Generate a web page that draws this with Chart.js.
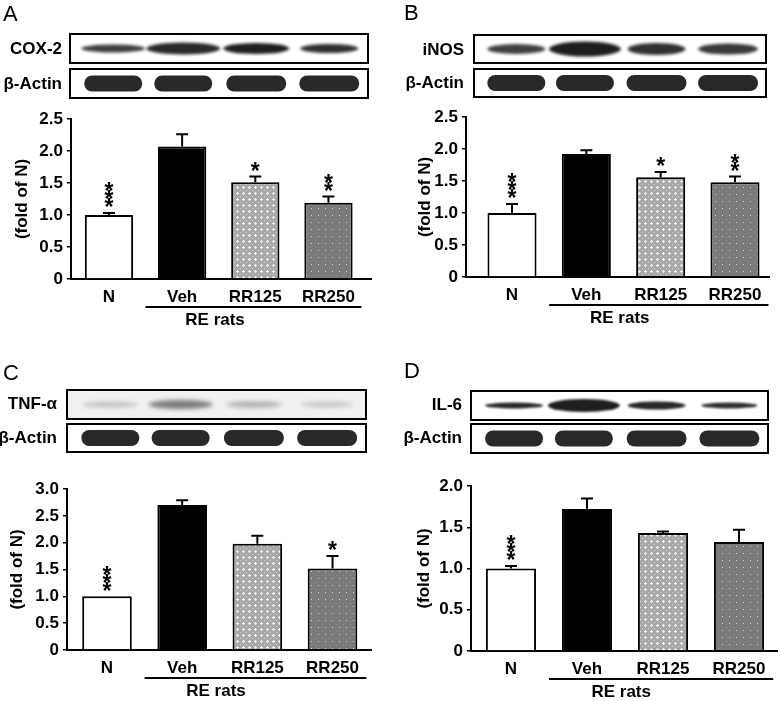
<!DOCTYPE html>
<html>
<head>
<meta charset="utf-8">
<script src="https://cdn.jsdelivr.net/npm/chart.js@4.4.0/dist/chart.umd.min.js"></script>
<style>
  body { margin: 0; background: #fff; }
  #page { position: relative; width: 778px; height: 701px; overflow: hidden; }
  canvas { position: absolute; }
</style>
</head>
<body>
<div id="page">
  <canvas id="blots" width="778" height="701" style="left:0;top:0"></canvas>
  <canvas id="chartA"></canvas>
  <canvas id="chartB"></canvas>
  <canvas id="chartC"></canvas>
  <canvas id="chartD"></canvas>
</div>
<script>
var groups = ['N', 'Veh', 'RR125', 'RR250'];

// A - COX-2
var coxValues = [1.0, 2.07, 1.51, 1.19];
var coxErrors = [0.03, 0.19, 0.09, 0.10];
var coxStars = [3, 0, 1, 2];
var coxTicks = [0, 0.5, 1.0, 1.5, 2.0, 2.5];

// B - iNOS
var inosValues = [1.0, 1.92, 1.56, 1.48];
var inosErrors = [0.14, 0.06, 0.08, 0.09];
var inosStars = [3, 0, 1, 2];
var inosTicks = [0, 0.5, 1.0, 1.5, 2.0, 2.5];

// C - TNF-alpha
var tnfValues = [1.0, 2.70, 1.98, 1.52];
var tnfErrors = [0, 0.09, 0.15, 0.23];
var tnfStars = [3, 0, 0, 1];
var tnfTicks = [0, 0.5, 1.0, 1.5, 2.0, 2.5, 3.0];

// D - IL-6
var il6Values = [1.0, 1.72, 1.43, 1.32];
var il6Errors = [0.03, 0.13, 0.02, 0.15];
var il6Stars = [3, 0, 0, 0];
var il6Ticks = [0, 0.5, 1.0, 1.5, 2.0];

// western blot band darkness per lane
var coxBands = [0.85, 0.95, 1.0, 0.92];
var inosBands = [0.85, 1.0, 0.92, 0.88];
var tnfBands = [0.22, 0.55, 0.28, 0.2];
var il6Bands = [0.95, 1.0, 0.95, 0.92];
var actinBands = [0.95, 0.95, 0.95, 0.95];

var FONT = '"Liberation Sans", Arial, Helvetica, sans-serif';
Chart.defaults.font.family = FONT;
Chart.defaults.color = '#000';

// ---- blots and panel letters (plain canvas) ----
var bg = document.getElementById('blots').getContext('2d');

function drawBlot(x, y, w, h, bands, heights, widths, fill, blur, pill) {
    bg.save();
    bg.fillStyle = fill;
    bg.fillRect(x, y, w, h);
    bg.beginPath();
    bg.rect(x, y, w, h);
    bg.clip();
    var lanes = [0.145, 0.38, 0.625, 0.87];
    for (var i = 0; i < lanes.length; i++) {
        var cx = x + w * lanes[i];
        var cy = y + h / 2;
        bg.save();
        bg.filter = 'blur(' + blur + 'px)';
        bg.fillStyle = 'rgba(30,30,30,' + bands[i] + ')';
        bg.beginPath();
        if (pill) {
            var r = heights[i] / 2;
            bg.moveTo(cx - widths[i] / 2 + r, cy - r);
            bg.lineTo(cx + widths[i] / 2 - r, cy - r);
            bg.arc(cx + widths[i] / 2 - r, cy, r, -Math.PI / 2, Math.PI / 2);
            bg.lineTo(cx - widths[i] / 2 + r, cy + r);
            bg.arc(cx - widths[i] / 2 + r, cy, r, Math.PI / 2, Math.PI * 1.5);
        } else {
            bg.ellipse(cx, cy, widths[i] / 2, heights[i] / 2, 0, 0, Math.PI * 2);
        }
        bg.fill();
        bg.restore();
    }
    bg.restore();
    bg.strokeStyle = '#000';
    bg.lineWidth = 2;
    bg.strokeRect(x, y, w, h);
}

function blotLabel(text, x, y) {
    bg.font = 'bold 17px ' + FONT;
    bg.fillStyle = '#000';
    bg.textAlign = 'right';
    bg.textBaseline = 'middle';
    bg.fillText(text, x, y);
}

function panelLetter(text, x, y) {
    bg.font = '22px ' + FONT;
    bg.fillStyle = '#000';
    bg.textAlign = 'left';
    bg.textBaseline = 'alphabetic';
    bg.fillText(text, x, y);
}

var actinW = [58, 58, 60, 60];
var actinH = [16, 16, 16, 16];

panelLetter('A', 3, 21);
drawBlot(70, 34, 298, 29, coxBands, [8, 12, 11, 9], [64, 74, 66, 58], '#fff', 1.6, false);
drawBlot(70, 69, 298, 29, actinBands, actinH, actinW, '#fff', 0.7, true);
blotLabel('COX-2', 62, 49);
blotLabel('\u03b2-Actin', 62, 84);

panelLetter('B', 404, 20);
drawBlot(474, 35, 292, 28, inosBands, [10, 15, 12, 11], [58, 72, 58, 60], '#fff', 1.6, false);
drawBlot(474, 69, 292, 28, actinBands, actinH, actinW, '#fff', 0.7, true);
blotLabel('iNOS', 464, 50);
blotLabel('\u03b2-Actin', 464, 83);

panelLetter('C', 3, 380);
drawBlot(67, 390, 299, 29, tnfBands, [6, 9, 7, 6], [56, 64, 56, 52], '#f1f1f1', 2, false);
drawBlot(67, 424, 299, 28, actinBands, actinH, actinW, '#fff', 0.7, true);
blotLabel('TNF-\u03b1', 57, 404);
blotLabel('\u03b2-Actin', 57, 438);

panelLetter('D', 404, 378);
drawBlot(471, 391, 297, 29, il6Bands, [6, 13, 8, 6], [58, 72, 58, 56], '#fff', 1.3, false);
drawBlot(471, 424, 297, 29, actinBands, actinH, actinW, '#fff', 0.7, true);
blotLabel('IL-6', 462, 405);
blotLabel('\u03b2-Actin', 462, 438);

// ---- bar fills ----
function tile(size, draw) {
    var c = document.createElement('canvas');
    c.width = size;
    c.height = size;
    draw(c.getContext('2d'));
    return bg.createPattern(c, 'repeat');
}

var fill125 = tile(6, function (t) {
    t.fillStyle = '#a9a9a9';
    t.fillRect(0, 0, 6, 6);
    t.fillStyle = '#cacaca';
    t.fillRect(0, 0, 1, 1);
    t.fillStyle = '#f2f2f2';
    t.fillRect(2, 3, 3, 1);
    t.fillRect(3, 2, 1, 3);
});

var fill250 = tile(7, function (t) {
    t.fillStyle = '#7a7a7a';
    t.fillRect(0, 0, 7, 7);
    t.fillStyle = '#d8d8d8';
    t.fillRect(3, 3, 1, 1);
    t.fillStyle = '#929292';
    t.fillRect(0, 0, 1, 1);
});

// error bars, stars and the "RE rats" bracket
function extras(values, errors, stars) {
    return {
        id: 'extras',
        afterDatasetsDraw: function (chart) {
            var ctx = chart.ctx;
            var xs = chart.scales.x;
            var ys = chart.scales.y;
            var bars = chart.getDatasetMeta(0).data;
            ctx.save();
            ctx.strokeStyle = '#000';
            ctx.fillStyle = '#000';
            ctx.lineWidth = 2;
            for (var i = 0; i < bars.length; i++) {
                var cx = bars[i].x;
                var yv = ys.getPixelForValue(values[i]);
                var ye = ys.getPixelForValue(values[i] + errors[i]);
                if (errors[i] > 0) {
                    ctx.beginPath();
                    ctx.moveTo(cx, yv);
                    ctx.lineTo(cx, ye);
                    ctx.moveTo(cx - 6, ye);
                    ctx.lineTo(cx + 6, ye);
                    ctx.stroke();
                }
                ctx.font = 'bold 23px ' + FONT;
                ctx.textAlign = 'center';
                ctx.textBaseline = 'alphabetic';
                for (var k = 0; k < stars[i]; k++) {
                    var cy = ye - 11 - k * 8;
                    ctx.fillText('*', cx, cy + 13.3);
                }
            }
            var yb = chart.chartArea.bottom;
            ctx.beginPath();
            ctx.moveTo(xs.getPixelForValue(0.5), yb + 28);
            ctx.lineTo(xs.getPixelForValue(3.45), yb + 28);
            ctx.stroke();
            ctx.font = 'bold 17px ' + FONT;
            ctx.textAlign = 'center';
            ctx.textBaseline = 'middle';
            ctx.fillText('RE rats', xs.getPixelForValue(1.45), yb + 41);
            ctx.restore();
        }
    };
}

var panels = [
    { id: 'chartA', left: 0, top: 100, w: 372, h: 229, padTop: 19, yWidth: 71, xMin: -0.519, xMax: 3.595, titlePad: 12,
      values: coxValues, errors: coxErrors, stars: coxStars, ticks: coxTicks },
    { id: 'chartB', left: 390, top: 100, w: 380, h: 227, padTop: 17, yWidth: 76, xMin: -0.619, xMax: 3.471, titlePad: 25,
      values: inosValues, errors: inosErrors, stars: inosStars, ticks: inosTicks },
    { id: 'chartC', left: 0, top: 470, w: 372, h: 230, padTop: 19, yWidth: 67, xMin: -0.532, xMax: 3.525, titlePad: 7,
      values: tnfValues, errors: tnfErrors, stars: tnfStars, ticks: tnfTicks },
    { id: 'chartD', left: 390, top: 466, w: 388, h: 235, padTop: 20, yWidth: 81, xMin: -0.526, xMax: 3.513, titlePad: 24,
      values: il6Values, errors: il6Errors, stars: il6Stars, ticks: il6Ticks }
];

panels.forEach(function (p) {
    var cv = document.getElementById(p.id);
    cv.width = p.w;
    cv.height = p.h;
    cv.style.left = p.left + 'px';
    cv.style.top = p.top + 'px';

    new Chart(cv, {
        type: 'bar',
        data: {
            datasets: [{
                data: p.values.map(function (v, i) { return { x: i, y: v }; }),
                backgroundColor: ['#ffffff', '#000000', fill125, fill250],
                borderColor: '#000',
                borderWidth: 2,
                barPercentage: 0.66,
                categoryPercentage: 1
            }]
        },
        options: {
            responsive: false,
            animation: false,
            devicePixelRatio: 1,
            layout: { padding: { top: p.padTop, left: 0, right: 0, bottom: 0 } },
            plugins: { legend: { display: false }, tooltip: { enabled: false } },
            scales: {
                x: {
                    type: 'linear',
                    offset: false,
                    min: p.xMin,
                    max: p.xMax,
                    afterBuildTicks: function (s) {
                        s.ticks = groups.map(function (g, i) { return { value: i }; });
                    },
                    afterFit: function (s) {
                        s.height = 50;
                        s.paddingLeft = 0;
                        s.paddingRight = 0;
                    },
                    ticks: {
                        autoSkip: false,
                        maxRotation: 0,
                        padding: 8,
                        font: { size: 17, weight: 'bold' },
                        callback: function (v) { return groups[v]; }
                    },
                    grid: { display: false, drawTicks: false },
                    border: { display: true, color: '#000', width: 2 }
                },
                y: {
                    min: 0,
                    max: p.ticks[p.ticks.length - 1],
                    afterBuildTicks: function (s) {
                        s.ticks = p.ticks.map(function (v) { return { value: v }; });
                    },
                    afterFit: function (s) {
                        s.width = p.yWidth;
                        s.paddingTop = 0;
                        s.paddingBottom = 0;
                    },
                    ticks: {
                        padding: 4,
                        font: { size: 17, weight: 'bold' },
                        callback: function (v) { return v === 0 ? '0' : v.toFixed(1); }
                    },
                    grid: { drawOnChartArea: false, drawTicks: true, tickLength: 4, color: '#000', lineWidth: 1.5 },
                    border: { display: true, color: '#000', width: 2 },
                    title: {
                        display: true,
                        text: '(fold of N)',
                        font: { size: 17, weight: 'bold' },
                        padding: { top: p.titlePad, bottom: 0 }
                    }
                }
            }
        },
        plugins: [extras(p.values, p.errors, p.stars)]
    });
});
</script>
</body>
</html>
